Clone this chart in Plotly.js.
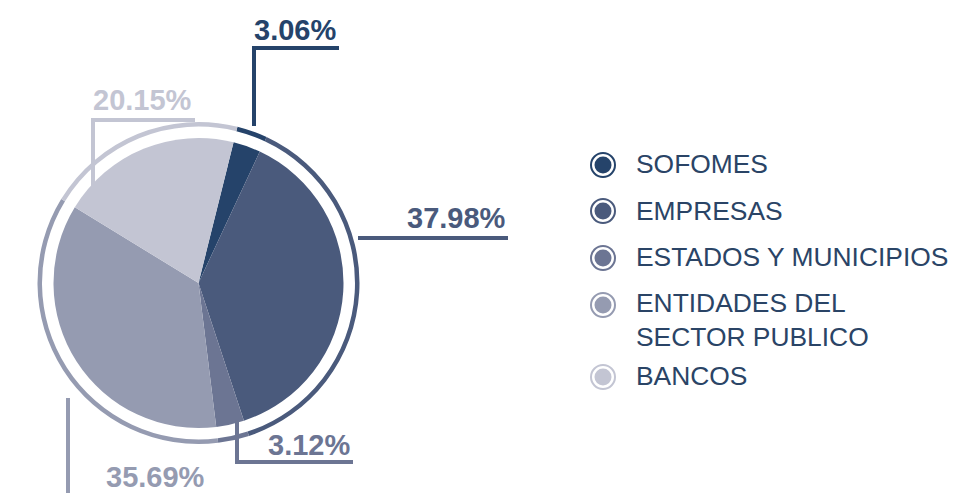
<!DOCTYPE html>
<html>
<head>
<meta charset="utf-8">
<script src="https://cdn.plot.ly/plotly-3.0.1.min.js"></script>
<style>html,body{margin:0;padding:0;background:#fff;}#chart{width:957px;height:493px;}</style>
</head>
<body>
<div id="chart"></div>
<script>
// ---- data ----
var categories = ["SOFOMES", "EMPRESAS", "ESTADOS Y MUNICIPIOS", "ENTIDADES DEL SECTOR PUBLICO", "BANCOS"];
var legendLabels = ["SOFOMES", "EMPRESAS", "ESTADOS Y MUNICIPIOS", "ENTIDADES DEL<br>SECTOR PUBLICO", "BANCOS"];
var shares = [3.06, 37.98, 3.12, 35.69, 20.15];
var colors = ["#25436a", "#4a5a7c", "#6c7593", "#959bb1", "#c3c5d3"];

// ---- helpers (pixel -> paper) ----
var W = 957, H = 493;
function X(px) { return px / W; }
function Y(py) { return 1 - py / H; }

var cx = 198.5, cy = 283;
var rPie = 145, rRing = 161;

var ring = {
  type: "pie", labels: categories, values: shares, sort: false, direction: "clockwise",
  rotation: 14, hole: 0.972, textinfo: "none", hoverinfo: "skip", showlegend: false,
  marker: { colors: colors, line: { width: 0 } },
  domain: { x: [X(cx - rRing), X(cx + rRing)], y: [Y(cy + rRing), Y(cy - rRing)] }
};
var pie = {
  type: "pie", labels: categories, values: shares, sort: false, direction: "clockwise",
  rotation: 14, textinfo: "none", showlegend: false,
  marker: { colors: colors, line: { width: 0 } },
  domain: { x: [X(cx - rPie), X(cx + rPie)], y: [Y(cy + rPie), Y(cy - rPie)] }
};

// leader lines (pixel paths) and label positions per slice
var leaderPaths = [
  [[254, 126], [254, 48], [339, 48]],
  [[358, 238], [508, 238]],
  [[237, 417], [237, 462], [353, 462]],
  [[68, 398], [68, 500]],
  [[93, 192], [93, 120], [195, 120]]
];
var labelPos = [[295, 40], [456, 228], [309, 455], [155, 487], [142, 110]];

var shapes = [];
var annotations = [];
for (var i = 0; i < shares.length; i++) {
  var p = leaderPaths[i];
  var d = "";
  for (var k = 0; k < p.length; k++) d += (k ? " L" : "M") + X(p[k][0]) + "," + Y(p[k][1]);
  shapes.push({ type: "path", xref: "paper", yref: "paper", path: d,
    line: { color: colors[i], width: 4 } });
  annotations.push({ xref: "paper", yref: "paper", x: X(labelPos[i][0]), y: Y(labelPos[i][1] - 10),
    xanchor: "center", yanchor: "middle", showarrow: false,
    text: "<b>" + shares[i].toFixed(2) + "%</b>",
    font: { family: "Liberation Sans, Arial, sans-serif", size: 29, color: colors[i] } });
}

// legend
var legMarkY = [165, 211, 258, 305, 377];
var legTextY = [164, 211, 257, 320, 376];
for (var j = 0; j < categories.length; j++) {
  var mx = 603, my = legMarkY[j];
  shapes.push({ type: "circle", xref: "paper", yref: "paper",
    x0: X(mx - 12), x1: X(mx + 12), y0: Y(my + 12), y1: Y(my - 12),
    fillcolor: "#ffffff", line: { color: colors[j], width: 2 } });
  shapes.push({ type: "circle", xref: "paper", yref: "paper",
    x0: X(mx - 8.5), x1: X(mx + 8.5), y0: Y(my + 8.5), y1: Y(my - 8.5),
    fillcolor: colors[j], line: { width: 0 } });
  annotations.push({ xref: "paper", yref: "paper", x: X(634), y: Y(legTextY[j]),
    xanchor: "left", yanchor: "middle", align: "left", showarrow: false,
    text: legendLabels[j],
    font: { family: "Liberation Sans, Arial, sans-serif", size: 26.4, color: "#2a4466" } });
}

var layout = {
  width: W, height: H, margin: { l: 0, r: 0, t: 0, b: 0 },
  paper_bgcolor: "#ffffff", plot_bgcolor: "#ffffff",
  showlegend: false, shapes: shapes, annotations: annotations
};
Plotly.newPlot("chart", [ring, pie], layout, { displayModeBar: false, staticPlot: true });
</script>
</body>
</html>
